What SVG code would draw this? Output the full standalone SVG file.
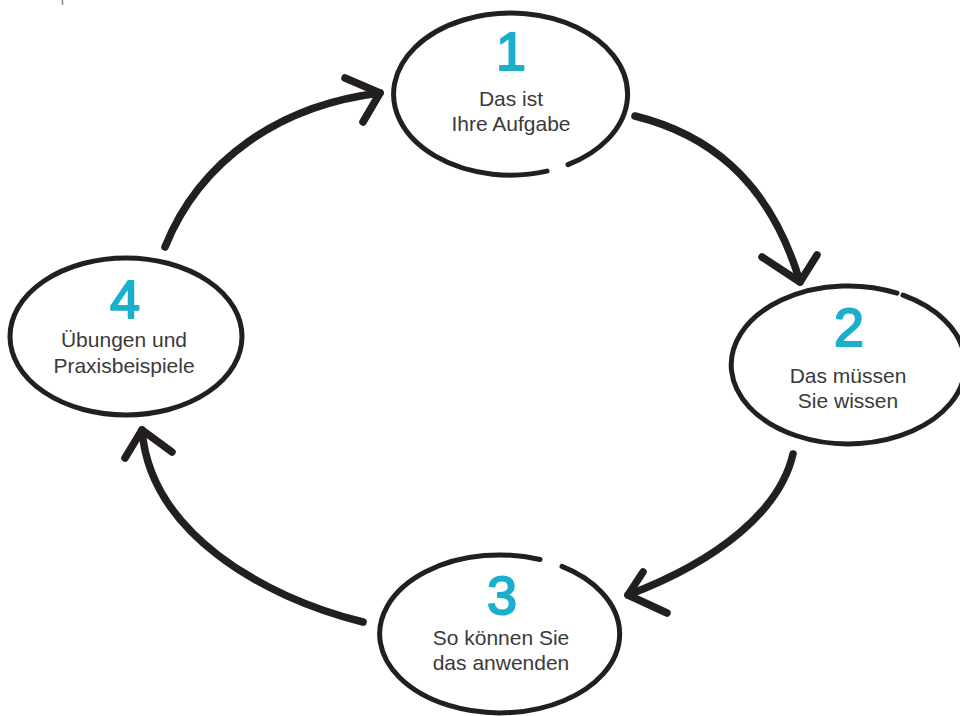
<svg xmlns="http://www.w3.org/2000/svg" width="960" height="716" viewBox="0 0 960 716">
<style>
.ring{fill:none;stroke:#231f20;stroke-width:5;stroke-linecap:round}
.arrow{fill:none;stroke:#231f20;stroke-width:7.5;stroke-linecap:round;stroke-linejoin:round}
.num{font-family:"Liberation Sans",Arial,sans-serif;font-size:54px;fill:#1aafca;stroke:#1aafca;stroke-width:2;stroke-linejoin:round;text-anchor:middle}
.lbl{font-family:"Liberation Sans",Arial,sans-serif;font-size:21px;fill:#3a3a3a;text-anchor:middle}
</style>
<rect width="960" height="716" fill="#ffffff"/>
<line x1="62.5" y1="0" x2="62.5" y2="5" stroke="#8a8a8a" stroke-width="1.5"/>
<g id="connectors">
  <g id="c1-2"><path class="arrow" d="M635,116 C703,133 768,175 800,282"/><path class="arrow" d="M762,257 L800,282 L817,255"/></g>
  <g id="c2-3"><path class="arrow" d="M793,454 C780,510 720,560 628,595"/><path class="arrow" d="M643,572 L628,595 L667,613"/></g>
  <g id="c3-4"><path class="arrow" d="M363,622 C262,597 150,532 142,430"/><path class="arrow" d="M125,458 L142,430 L172,452"/></g>
  <g id="c4-1"><path class="arrow" d="M165,247 C200,160 280,105 380,93"/><path class="arrow" d="M345,78 L380,93 L363,122"/></g>
</g>
<g id="node1">
  <path class="ring" d="M568,164.7 A117,81 0 1 0 547,171.1"/>
  <text class="num" x="511" y="70">1</text>
  <text class="lbl" x="511" y="106">Das ist</text>
  <text class="lbl" x="511" y="131">Ihre Aufgabe</text>
</g>
<g id="node2">
  <path class="ring" d="M903,295.1 A117,79 0 1 1 897,293.1"/>
  <text class="num" x="849" y="346">2</text>
  <text class="lbl" x="848" y="383">Das müssen</text>
  <text class="lbl" x="848" y="408">Sie wissen</text>
</g>
<g id="node3">
  <path class="ring" d="M562,566.4 A120,79 0 1 1 540,559.5"/>
  <text class="num" x="502" y="614">3</text>
  <text class="lbl" x="501" y="645">So können Sie</text>
  <text class="lbl" x="501" y="670">das anwenden</text>
</g>
<g id="node4">
  <ellipse class="ring" cx="126" cy="336.5" rx="116" ry="78.5"/>
  <text class="num" x="125" y="318">4</text>
  <text class="lbl" x="124" y="347">Übungen und</text>
  <text class="lbl" x="124" y="373">Praxisbeispiele</text>
</g>
</svg>
